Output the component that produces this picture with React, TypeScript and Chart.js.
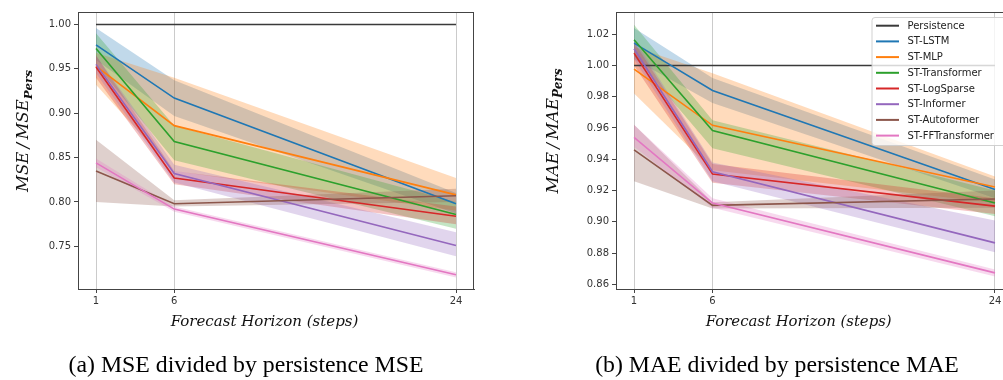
import React, { useEffect, useRef } from 'react';
import { Chart, registerables } from 'chart.js';

Chart.register(...registerables);

// ---------- data ----------
const HORIZONS = [1, 6, 24];
const SERIES_NAMES = [
  'Persistence',
  'ST-LSTM',
  'ST-MLP',
  'ST-Transformer',
  'ST-LogSparse',
  'ST-Informer',
  'ST-Autoformer',
  'ST-FFTransformer',
];
const SERIES_COLORS = ['#3a3a3a', '#1f77b4', '#ff7f0e', '#2ca02c', '#d62728', '#9467bd', '#8c564b', '#e377c2'];

// MSE / MSE_pers (means)
const MSE_PERSISTENCE = [1.0, 1.0, 1.0];
const MSE_LSTM = [0.977, 0.917, 0.798];
const MSE_MLP = [0.953, 0.886, 0.808];
const MSE_TRANSFORMER = [0.973, 0.868, 0.786];
const MSE_LOGSPARSE = [0.952, 0.827, 0.784];
const MSE_INFORMER = [0.955, 0.832, 0.751];
const MSE_AUTOFORMER = [0.835, 0.798, 0.807];
const MSE_FFTRANSFORMER = [0.844, 0.792, 0.718];
// MSE confidence bands
const MSE_LSTM_LO = [0.96, 0.897, 0.787];
const MSE_LSTM_HI = [0.996, 0.937, 0.81];
const MSE_MLP_LO = [0.932, 0.835, 0.79];
const MSE_MLP_HI = [0.968, 0.94, 0.827];
const MSE_TRANSFORMER_LO = [0.955, 0.847, 0.77];
const MSE_TRANSFORMER_HI = [0.99, 0.886, 0.8];
const MSE_LOGSPARSE_LO = [0.94, 0.82, 0.775];
const MSE_LOGSPARSE_HI = [0.965, 0.835, 0.795];
const MSE_INFORMER_LO = [0.945, 0.822, 0.739];
const MSE_INFORMER_HI = [0.965, 0.842, 0.766];
const MSE_AUTOFORMER_LO = [0.8, 0.795, 0.8];
const MSE_AUTOFORMER_HI = [0.87, 0.802, 0.815];
const MSE_FFTRANSFORMER_LO = [0.839, 0.789, 0.715];
const MSE_FFTRANSFORMER_HI = [0.849, 0.795, 0.721];

// MAE / MAE_pers (means)
const MAE_PERSISTENCE = [1.0, 1.0, 1.0];
const MAE_LSTM = [1.0143, 0.984, 0.9206];
const MAE_MLP = [0.9977, 0.9617, 0.9223];
const MAE_TRANSFORMER = [1.0164, 0.9583, 0.912];
const MAE_LOGSPARSE = [1.0079, 0.9306, 0.91];
const MAE_INFORMER = [1.0107, 0.932, 0.8865];
const MAE_AUTOFORMER = [0.946, 0.9105, 0.9146];
const MAE_FFTRANSFORMER = [0.954, 0.912, 0.8673];
// MAE confidence bands
const MAE_LSTM_LO = [1.004, 0.976, 0.915];
const MAE_LSTM_HI = [1.024, 0.992, 0.927];
const MAE_MLP_LO = [0.982, 0.933, 0.912];
const MAE_MLP_HI = [1.012, 0.995, 0.929];
const MAE_TRANSFORMER_LO = [1.006, 0.947, 0.9035];
const MAE_TRANSFORMER_HI = [1.026, 0.965, 0.92];
const MAE_LOGSPARSE_LO = [1.0, 0.925, 0.905];
const MAE_LOGSPARSE_HI = [1.015, 0.937, 0.915];
const MAE_INFORMER_LO = [1.004, 0.926, 0.8805];
const MAE_INFORMER_HI = [1.017, 0.938, 0.9008];
const MAE_AUTOFORMER_LO = [0.926, 0.9085, 0.909];
const MAE_AUTOFORMER_HI = [0.962, 0.9125, 0.92];
const MAE_FFTRANSFORMER_LO = [0.948, 0.909, 0.865];
const MAE_FFTRANSFORMER_HI = [0.962, 0.915, 0.8695];

const MSE_TICKS = [0.75, 0.8, 0.85, 0.9, 0.95, 1.0];
const MAE_TICKS = [0.86, 0.88, 0.9, 0.92, 0.94, 0.96, 0.98, 1.0, 1.02];

const MSE_MEANS = [MSE_PERSISTENCE, MSE_LSTM, MSE_MLP, MSE_TRANSFORMER, MSE_LOGSPARSE, MSE_INFORMER, MSE_AUTOFORMER, MSE_FFTRANSFORMER];
const MSE_LOS = [null, MSE_LSTM_LO, MSE_MLP_LO, MSE_TRANSFORMER_LO, MSE_LOGSPARSE_LO, MSE_INFORMER_LO, MSE_AUTOFORMER_LO, MSE_FFTRANSFORMER_LO];
const MSE_HIS = [null, MSE_LSTM_HI, MSE_MLP_HI, MSE_TRANSFORMER_HI, MSE_LOGSPARSE_HI, MSE_INFORMER_HI, MSE_AUTOFORMER_HI, MSE_FFTRANSFORMER_HI];
const MAE_MEANS = [MAE_PERSISTENCE, MAE_LSTM, MAE_MLP, MAE_TRANSFORMER, MAE_LOGSPARSE, MAE_INFORMER, MAE_AUTOFORMER, MAE_FFTRANSFORMER];
const MAE_LOS = [null, MAE_LSTM_LO, MAE_MLP_LO, MAE_TRANSFORMER_LO, MAE_LOGSPARSE_LO, MAE_INFORMER_LO, MAE_AUTOFORMER_LO, MAE_FFTRANSFORMER_LO];
const MAE_HIS = [null, MAE_LSTM_HI, MAE_MLP_HI, MAE_TRANSFORMER_HI, MAE_LOGSPARSE_HI, MAE_INFORMER_HI, MAE_AUTOFORMER_HI, MAE_FFTRANSFORMER_HI];

// ---------- helpers ----------
const SPINE = '#444444';
const TICK_TEXT = '#333333';

function hexToRgba(hex: string, a: number) {
  const n = parseInt(hex.slice(1), 16);
  return `rgba(${(n >> 16) & 255},${(n >> 8) & 255},${n & 255},${a})`;
}

function pts(vals: number[]) {
  return HORIZONS.map((x, i) => ({ x, y: vals[i] }));
}

function buildDatasets(means: number[][], los: (number[] | null)[], his: (number[] | null)[]) {
  const ds: any[] = [];
  means.forEach((m, i) => {
    const color = SERIES_COLORS[i];
    const lo = los[i];
    const hi = his[i];
    if (lo && hi) {
      const loIdx = ds.length;
      ds.push({
        label: SERIES_NAMES[i] + ' lo',
        data: pts(lo),
        borderWidth: 0,
        pointRadius: 0,
        borderColor: 'rgba(0,0,0,0)',
        fill: false,
        order: 40 - i,
      });
      ds.push({
        label: SERIES_NAMES[i] + ' hi',
        data: pts(hi),
        borderWidth: 0,
        pointRadius: 0,
        borderColor: 'rgba(0,0,0,0)',
        backgroundColor: hexToRgba(color, 0.28),
        fill: loIdx,
        order: 40 - i,
      });
    }
    ds.push({
      label: SERIES_NAMES[i],
      data: pts(m),
      borderColor: color,
      borderWidth: 1.6,
      pointRadius: 0,
      fill: false,
      tension: 0,
      order: 20 - i,
    });
  });
  return ds;
}

function fitSize(ctx: CanvasRenderingContext2D, text: string, style: string, family: string, target: number) {
  ctx.font = `${style} 100px ${family}`;
  const w = ctx.measureText(text).width;
  return (100 * target) / w;
}

const decorPlugin = {
  id: 'decor',
  afterDraw(chart: any, _args: any, opts: any) {
    const ctx: CanvasRenderingContext2D = chart.ctx;
    const { left, top, right, bottom } = chart.chartArea;
    ctx.save();
    // top & right spines
    ctx.strokeStyle = SPINE;
    ctx.lineWidth = 1;
    ctx.beginPath();
    ctx.moveTo(left, top + 0.5);
    ctx.lineTo(right, top + 0.5);
    if (opts.rightSpine) {
      ctx.moveTo(right - 0.5, top);
      ctx.lineTo(right - 0.5, bottom);
    }
    ctx.stroke();

    // x title
    const xt = 'Forecast Horizon (steps)';
    const xs = fitSize(ctx, xt, 'italic', '"DejaVu Serif"', opts.xTitleWidth);
    ctx.font = `italic ${xs}px "DejaVu Serif"`;
    ctx.fillStyle = '#111';
    ctx.textAlign = 'center';
    ctx.textBaseline = 'middle';
    ctx.fillText(xt, opts.xTitleX, opts.xTitleY);

    // y title (rotated, with subscript)
    const main = opts.yMain;
    const sub = 'Pers';
    ctx.font = `italic 100px "DejaVu Serif"`;
    const wm = ctx.measureText(main).width;
    ctx.font = `italic bold 72px "DejaVu Serif"`;
    const wsub = ctx.measureText(sub).width;
    const scale = opts.yTitleWidth / (wm + wsub);
    const ms = 100 * scale;
    const ss = 72 * scale;
    ctx.translate(opts.yTitleX, opts.yTitleY);
    ctx.rotate(-Math.PI / 2);
    const total = (wm + wsub) * scale;
    ctx.textAlign = 'left';
    ctx.textBaseline = 'alphabetic';
    ctx.font = `italic ${ms}px "DejaVu Serif"`;
    ctx.fillText(main, -total / 2, ms * 0.36);
    ctx.font = `italic bold ${ss}px "DejaVu Serif"`;
    ctx.fillText(sub, -total / 2 + wm * scale, ms * 0.36 + ms * 0.22);
    ctx.setTransform(1, 0, 0, 1, 0, 0);

    // caption
    const cs = fitSize(ctx, opts.caption, 'normal', '"Liberation Serif"', opts.captionWidth);
    ctx.font = `${cs}px "Liberation Serif"`;
    ctx.fillStyle = '#000';
    ctx.textAlign = 'center';
    ctx.textBaseline = 'middle';
    ctx.fillText(opts.caption, opts.captionX, opts.captionY);

    // legend
    if (opts.legend) {
      const lx = opts.legendX;
      const ly = opts.legendY;
      const lw = 200;
      const lh = 128;
      ctx.fillStyle = 'rgba(255,255,255,0.8)';
      ctx.strokeStyle = 'rgba(204,204,204,0.9)';
      ctx.lineWidth = 1;
      ctx.beginPath();
      const r = 3;
      ctx.moveTo(lx + r + 0.5, ly + 0.5);
      ctx.lineTo(lx + lw, ly + 0.5);
      ctx.lineTo(lx + lw, ly + lh + 0.5);
      ctx.lineTo(lx + r + 0.5, ly + lh + 0.5);
      ctx.arcTo(lx + 0.5, ly + lh + 0.5, lx + 0.5, ly + lh - r + 0.5, r);
      ctx.lineTo(lx + 0.5, ly + r + 0.5);
      ctx.arcTo(lx + 0.5, ly + 0.5, lx + r + 0.5, ly + 0.5, r);
      ctx.closePath();
      ctx.fill();
      ctx.stroke();
      ctx.font = '10px "DejaVu Sans"';
      ctx.textAlign = 'left';
      ctx.textBaseline = 'middle';
      SERIES_NAMES.forEach((name, i) => {
        const y = ly + 8.7 + i * 15.7;
        ctx.strokeStyle = SERIES_COLORS[i];
        ctx.lineWidth = 2;
        ctx.beginPath();
        ctx.moveTo(lx + 4.5, y);
        ctx.lineTo(lx + 27.5, y);
        ctx.stroke();
        ctx.fillStyle = '#222';
        ctx.fillText(name, lx + 36, y + 0.5);
      });
    }
    ctx.restore();
  },
};

function makeConfig(
  means: number[][],
  los: (number[] | null)[],
  his: (number[] | null)[],
  yMin: number,
  yMax: number,
  yTicks: number[],
  xMax: number,
  yAxisWidth: number,
  rightPad: number,
  decor: any
) {
  return {
    type: 'line',
    data: { datasets: buildDatasets(means, los, his) },
    plugins: [decorPlugin],
    options: {
      animation: false,
      responsive: false,
      maintainAspectRatio: false,
      layout: { padding: { top: 12, right: rightPad, left: 0, bottom: 0 } },
      plugins: {
        legend: { display: false },
        tooltip: { enabled: false },
        decor,
      },
      scales: {
        x: {
          type: 'linear',
          min: -0.15,
          max: xMax,
          afterBuildTicks: (s: any) => {
            s.ticks = HORIZONS.map((v) => ({ value: v }));
          },
          afterFit: (s: any) => {
            s.height = 91;
            s.paddingLeft = 0;
            s.paddingRight = 0;
          },
          ticks: {
            callback: (v: any) => String(v),
            font: { family: '"DejaVu Sans"', size: 10 },
            color: TICK_TEXT,
            padding: 2,
            maxRotation: 0,
            autoSkip: false,
          },
          grid: {
            display: true,
            drawOnChartArea: true,
            color: 'rgba(190,190,190,0.8)',
            lineWidth: 1,
            tickColor: SPINE,
            tickLength: 4,
          },
          border: { display: true, color: SPINE, width: 1 },
        },
        y: {
          type: 'linear',
          min: yMin,
          max: yMax,
          afterBuildTicks: (s: any) => {
            s.ticks = yTicks.map((v) => ({ value: v }));
          },
          afterFit: (s: any) => {
            s.width = yAxisWidth;
            s.paddingTop = 0;
            s.paddingBottom = 0;
          },
          ticks: {
            callback: (v: any) => Number(v).toFixed(2),
            font: { family: '"DejaVu Sans"', size: 10 },
            color: TICK_TEXT,
            padding: 3,
            autoSkip: false,
          },
          grid: {
            display: true,
            drawOnChartArea: false,
            tickColor: SPINE,
            tickLength: 4,
          },
          border: { display: true, color: SPINE, width: 1 },
        },
      },
    },
  };
}

function ChartCanvas({ config, width, height, left }: any) {
  const ref = useRef<HTMLCanvasElement | null>(null);
  useEffect(() => {
    if (!ref.current) return;
    const chart = new Chart(ref.current, config);
    return () => chart.destroy();
  }, []);
  return (
    <canvas
      ref={ref}
      width={width}
      height={height}
      style={{ position: 'absolute', left, top: 0, width, height }}
    />
  );
}

export default function App() {
  const mseConfig = makeConfig(
    MSE_MEANS,
    MSE_LOS,
    MSE_HIS,
    0.702,
    1.014,
    MSE_TICKS,
    25.15,
    78,
    26,
    {
      rightSpine: true,
      xTitleX: 264.5,
      xTitleY: 322,
      xTitleWidth: 188,
      yMain: 'MSE\u2009/\u2009MSE',
      yTitleX: 22,
      yTitleY: 131,
      yTitleWidth: 122,
      caption: '(a) MSE divided by persistence MSE',
      captionX: 246,
      captionY: 366,
      captionWidth: 355,
      legend: false,
    }
  );
  const maeConfig = makeConfig(
    MAE_MEANS,
    MAE_LOS,
    MAE_HIS,
    0.857,
    1.0342,
    MAE_TICKS,
    24.51,
    116,
    0,
    {
      rightSpine: false,
      xTitleX: 298.7,
      xTitleY: 322,
      xTitleWidth: 186,
      yMain: 'MAE\u2009/\u2009MAE',
      yTitleX: 52,
      yTitleY: 131,
      yTitleWidth: 125,
      caption: '(b) MAE divided by persistence MAE',
      captionX: 277,
      captionY: 366,
      captionWidth: 364,
      legend: true,
      legendX: 371.5,
      legendY: 17,
    }
  );
  return (
    <div style={{ position: 'relative', width: 1003, height: 380, background: '#fff' }}>
      <style>{'body{margin:0;background:#fff;}'}</style>
      <ChartCanvas config={mseConfig} width={500} height={380} left={0} />
      <ChartCanvas config={maeConfig} width={503} height={380} left={500} />
    </div>
  );
}
